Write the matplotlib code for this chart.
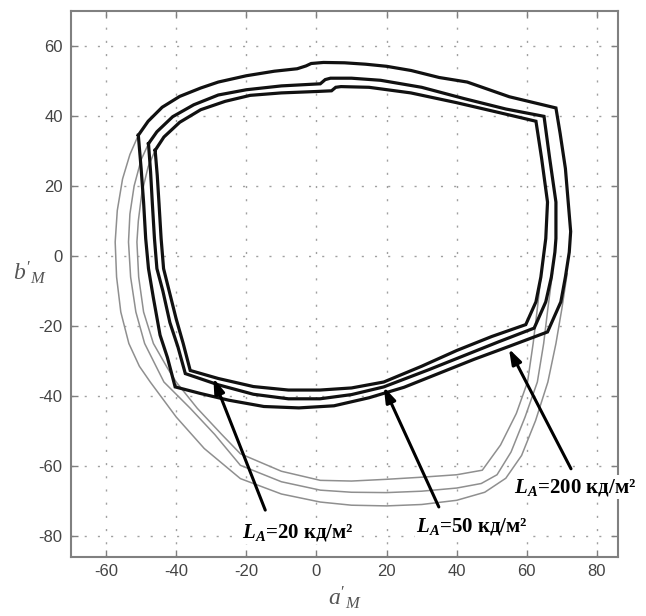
import matplotlib
matplotlib.use('Agg')
import matplotlib.pyplot as plt
import numpy as np

plt.rcParams['mathtext.fontset'] = 'custom'
plt.rcParams['mathtext.rm'] = 'Liberation Serif'
plt.rcParams['mathtext.it'] = 'Liberation Serif:italic'
plt.rcParams['mathtext.bf'] = 'Liberation Serif:bold'
plt.rcParams['mathtext.bfit'] = 'Liberation Serif:italic:bold'
plt.rcParams['axes.unicode_minus'] = False

# thick boundaries (LA = 200, 50, 20 cd/m2)
outerX = [-50.8, -48, -44, -39, -33, -28, -20, -12, -5.5, -3, -1.5, 2, 8, 14, 20, 27, 35, 43, 55, 68.3,
          69.5, 71, 71.8, 72.5, 72.1, 71, 69.7, 65.9,
          55, 45, 35, 25, 15, 5, -5, -15, -25, -33, -40.3,
          -42.5, -44.6, -46.5, -47.9, -48.7, -49.3, -50, -50.8]
outerY = [34.5, 38.5, 42.5, 45.6, 48, 49.7, 51.5, 52.8, 53.5, 54.3, 55.0, 55.3, 55.2, 54.8, 54.2, 53, 51, 49.7, 45.5, 42.3,
          35, 25, 15.4, 7, 1.1, -6, -13.1, -21.7,
          -25.8, -29.5, -33.5, -37.5, -40.5, -42.8, -43.4, -43, -41.2, -39.3, -37.4,
          -29, -22.6, -12, -3.6, 5, 15.4, 25, 34.5]

midX = [-47.9, -45.5, -41, -35, -28, -20, -10, 1.1, 2.5, 4, 10, 18.3, 30, 42, 54, 64.9,
        66.5, 68.3, 68.3, 68, 67, 65.4, 62.1,
        52, 42, 32, 19.2, 10, 1, -8, -18, -28, -37.4,
        -39.5, -41.8, -43.8, -45.5, -46.2, -46.8, -47.3, -47.9]
midY = [32.1, 35.5, 39.8, 43.2, 46, 47.5, 48.6, 49.2, 50.4, 50.8, 50.8, 50.2, 48.2, 45, 42, 39.9,
        28, 15.4, 5, 1.1, -6, -13.1, -20.6,
        -24.5, -28.5, -32.5, -37.4, -39.6, -40.8, -40.8, -39.5, -36.8, -33.6,
        -26, -19, -10, -3.6, 5, 15, 24, 32.1]

innerX = [-46, -43.5, -39, -33, -26, -18.9, -10, 0, 4.3, 5.5, 7, 15, 26.9, 40, 52, 62.6,
          64.2, 65.9, 65.4, 64.9, 64, 62.6, 59.7,
          50, 40, 30, 19.2, 10, 1, -8, -18, -28, -36,
          -38, -40, -42, -43.6, -44.3, -44.9, -45.4, -46]
innerY = [30.2, 34, 38.2, 41.8, 44.2, 45.9, 46.6, 47, 47.2, 48.2, 48.4, 48.2, 46.6, 43.8, 41, 38.5,
          28, 15.4, 5, 1.1, -6, -13.1, -19.6,
          -23, -27, -31.5, -36, -37.7, -38.3, -38.3, -37.3, -35, -32.7,
          -25, -18, -10, -3.6, 5, 15, 23, 30.2]

# thin outer gamut branches
thin1X = [-50.8, -53.2, -55.3, -56.8, -57.4, -57, -55.8, -53.5, -50.5, -47.4, -40, -32, -21.7, -10, 1.1,
          10, 20, 30, 40, 48, 54, 58.5, 62.5, 66, 68.3, 70, 71.5]
thin1Y = [34.5, 29, 22, 13, 4, -6, -16, -25, -31.5, -36, -46, -55, -63.6, -68, -70.3,
          -71.2, -71.4, -71, -69.8, -67.5, -63.5, -57, -47, -36, -25, -15, -5]

thin2X = [-47.9, -50, -52, -53.2, -53.6, -53, -51.5, -49, -45.5, -43.5, -36, -29, -21.7, -10, 1.1,
          10, 20, 30, 40, 47, 51.5, 55.5, 59.5, 63, 64.8, 66, 67.3]
thin2Y = [32.1, 27.5, 20, 12, 4, -6, -16, -25, -32, -36, -43.5, -51, -59.8, -64.5, -66.9,
          -67.5, -67.6, -67.2, -66.3, -65, -62.5, -56, -46, -36, -25, -15, -5]

thin3X = [-46, -48, -49.8, -50.8, -51.2, -50.7, -49.3, -46.5, -42.5, -40, -34, -27, -21.7, -10, 1.1,
          10, 20, 30, 40, 47.3, 52.5, 57, 60.2, 61.8, 63, 64]
thin3Y = [30.2, 25.5, 18, 10, 4, -6, -16, -25, -32, -36, -43.5, -51, -56.5, -61.5, -64.1,
          -64.3, -63.8, -63.2, -62.5, -61.2, -54, -45, -36, -25, -15, -6]

labels = ['=20 кд/м²', '=50 кд/м²', '=200 кд/м²']
labelXY = [(-5.4, -78.9), (44.4, -77.4), (73.7, -66.0)]
arrowTail = [(-14.6, -72.6), (34.9, -71.7), (72.6, -60.8)]
arrowTip = [(-29.4, -34.9), (19.2, -37.4), (54.9, -26.5)]

fig = plt.figure(figsize=(6.46, 6.16), dpi=100)
ax = fig.add_axes([71 / 646, 1 - 557 / 616, 547 / 646, 546 / 616])

for tx, ty in [(thin1X, thin1Y), (thin2X, thin2Y), (thin3X, thin3Y)]:
    ax.plot(tx, ty, color='#8f8f8f', lw=1.1, zorder=2)
for cx, cy in [(outerX, outerY), (midX, midY), (innerX, innerY)]:
    ax.plot(cx, cy, color='#111111', lw=2.3, zorder=3, solid_joinstyle='miter')

ax.set_xlim(-70, 86)
ax.set_ylim(-86, 70)
ax.set_xticks(np.arange(-60, 81, 20))
ax.set_yticks(np.arange(-80, 61, 20))
ax.grid(True, color='#a0a0a0', linestyle=(0, (1.5, 8)), lw=1)
ax.set_axisbelow(True)

for s in ax.spines.values():
    s.set_color('#808080')
    s.set_linewidth(1.5)
ax.tick_params(direction='in', length=5, width=1, color='#808080', top=True, right=True,
               labelcolor='#444444', labelsize=12)
ax.tick_params(axis='x', pad=5)
ax.tick_params(axis='y', pad=6)
for lab in ax.get_xticklabels() + ax.get_yticklabels():
    lab.set_fontfamily('Liberation Sans')

ax.set_xlabel("$a'_M$", fontsize=17, color='#555555', labelpad=4)
ax.set_ylabel("$b'_M$", fontsize=17, color='#555555', rotation=0, ha='center', va='center')
ax.yaxis.set_label_coords(-0.075, 0.52)

for lab, (lx, ly), tail, tip in zip(labels, labelXY, arrowTail, arrowTip):
    ax.annotate('', xy=tip, xytext=tail,
                arrowprops=dict(arrowstyle='-|>,head_length=0.9,head_width=0.3', lw=2.2, color='k',
                                shrinkA=0, shrinkB=0), zorder=6)
    ax.text(lx, ly, r'$\mathbfit{L}_{\mathbfit{A}}$' + lab, fontsize=15, fontfamily='Liberation Serif',
            fontweight='bold', ha='center', va='center', zorder=7, clip_on=False,
            bbox=dict(facecolor='white', edgecolor='none', pad=1))

fig.savefig('out.png', dpi=100)
